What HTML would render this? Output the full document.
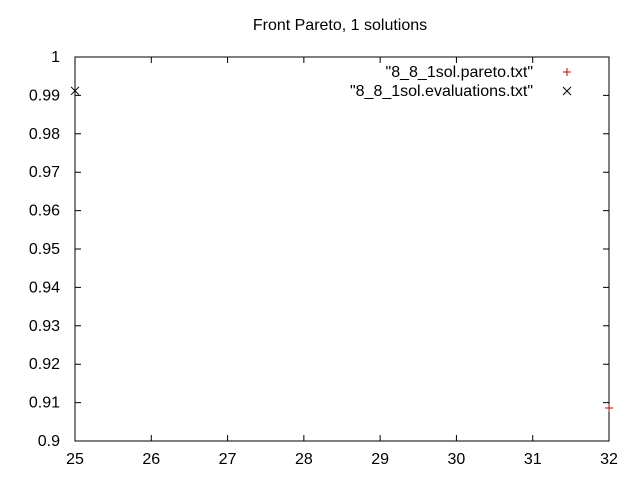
<!DOCTYPE html>
<html><head><meta charset="utf-8"><style>
body{margin:0;background:#fff}
svg text{font-family:"Liberation Sans",sans-serif;font-size:16px;fill:#000}
</style></head><body>
<svg id="chart" width="640" height="480" xmlns="http://www.w3.org/2000/svg">
<rect width="640" height="480" fill="#fff"/>
<text x="340" y="30" text-anchor="middle">Front Pareto, 1 solutions</text>
<g id="axes"></g>
<g id="marks"></g>
<g>
<text x="533" y="77" text-anchor="end">"8_8_1sol.pareto.txt"</text>
<path d="M563 72h8M567 68v8" stroke="#c00000" stroke-width="1"/>
<text x="533" y="96" text-anchor="end">"8_8_1sol.evaluations.txt"</text>
<path d="M563 87l8 8M571 87l-8 8" stroke="#000" stroke-width="1"/>
</g>
</svg>
<script>
const xTicks=[25,26,27,28,29,30,31,32];
const yTicks=[0.9,0.91,0.92,0.93,0.94,0.95,0.96,0.97,0.98,0.99,1];
const yTickLabels=["0.9","0.91","0.92","0.93","0.94","0.95","0.96","0.97","0.98","0.99","1"];
const paretoX=[32];
const paretoY=[0.9086];
const evalX=[25];
const evalY=[0.9912];
const L=75,R=609,T=57,B=441;
const sx=v=>L+(v-25)/(32-25)*(R-L);
const sy=v=>B-(v-0.9)/(1-0.9)*(B-T);
const NS="http://www.w3.org/2000/svg";
const ax=document.getElementById('axes'),mk=document.getElementById('marks');
function mkEl(t,a,p){const e=document.createElementNS(NS,t);for(const k in a)e.setAttribute(k,a[k]);p.appendChild(e);return e;}
const frame=mkEl('rect',{x:L,y:T,width:R-L,height:B-T,fill:'none',stroke:'#000','stroke-width':1},ax);


xTicks.forEach(v=>{const x=sx(v);
 const t=mkEl('path',{d:`M${x} ${B}v-6M${x} ${T}v6`,stroke:'#000'},ax);
 
 
 const l=mkEl('text',{x:x,y:B+23,'text-anchor':'middle'},ax);l.textContent=v;
 
 });
yTicks.forEach((v,i)=>{const y=sy(v);
 const t=mkEl('path',{d:`M${L} ${y}h6M${R} ${y}h-6`,stroke:'#000'},ax);
 
 
 const l=mkEl('text',{x:L-15,y:y+5,'text-anchor':'end'},ax);l.textContent=yTickLabels[i];
 
 });
paretoX.forEach((v,i)=>{const x=sx(v),y=sy(paretoY[i]);
 const p=mkEl('path',{d:`M${x-4} ${y}h8M${x} ${y-4}v8`,stroke:'#c00000'},mk);
 
 });
evalX.forEach((v,i)=>{const x=sx(v),y=sy(evalY[i]);
 const p=mkEl('path',{d:`M${x-4} ${y-4}l8 8M${x+4} ${y-4}l-8 8`,stroke:'#000'},mk);
 
 });
</script>
</body></html>
